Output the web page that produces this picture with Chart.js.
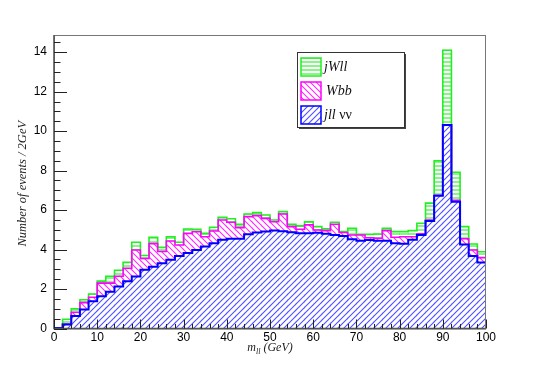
<!DOCTYPE html>
<html><head><meta charset="utf-8">
<script src="https://cdn.jsdelivr.net/npm/chart.js@4.4.1/dist/chart.umd.min.js"></script>
<style>html,body{margin:0;padding:0;background:#fff}#wrap{width:540px;height:366px;position:relative}</style>
</head><body><div id="wrap"><canvas id="c" width="540" height="366"></canvas></div>
<script>
// bin centres of the m_ll histogram (GeV), 2 GeV bins
const binCenters = [1,3,5,7,9,11,13,15,17,19,21,23,25,27,29,31,33,35,37,39,41,43,45,47,49,
  51,53,55,57,59,61,63,65,67,69,71,73,75,77,79,81,83,85,87,89,91,93,95,97,99];
// stacked contributions (events / 2 GeV), bottom to top
const jllvv = [0.02,0.2,0.63,0.96,1.38,1.63,1.86,2.13,2.39,2.63,2.98,3.13,3.3,3.48,3.67,3.82,3.98,4.15,4.32,4.5,
  4.55,4.55,4.77,4.86,4.91,4.96,4.93,4.88,4.82,4.83,4.85,4.8,4.74,4.69,4.52,4.45,4.49,4.45,4.45,4.32,
  4.3,4.5,4.74,5.45,6.72,10.31,6.42,4.25,3.67,3.35];
const Wbb = [0,0.02,0.19,0.35,0.2,0.67,0.44,0.52,0.66,1.35,0.57,1.17,0.6,0.95,0.56,1.0,0.92,0.5,0.62,1.0,
  0.83,0.56,0.9,0.86,0.67,0.45,0.87,0.28,0.21,0.42,0.14,0.16,0.54,0.17,0.22,0.29,0.11,0.12,0.51,0.3,
  0.35,0.15,0.06,0.05,0.03,0,0.08,0.3,0.31,0.24];
const jWll = [0.01,0.25,0.18,0.15,0.17,0.1,0.35,0.3,0.3,0.39,0.15,0.32,0.21,0.22,0.14,0.22,0.13,0.17,0.19,0.14,
  0.18,0.17,0.13,0.15,0.17,0.09,0.12,0.12,0.17,0.16,0.17,0.09,0.1,0.05,0.34,0.03,0.17,0.22,0.12,0.29,
  0.26,0.31,0.53,0.85,1.75,3.79,1.42,0.61,0.3,0.3];
const xTicks = [0,10,20,30,40,50,60,70,80,90,100];
const yTicks = [0,2,4,6,8,10,12,14];
const binWidth = 2;

function hatch(kind, color, size) {
  const c = document.createElement('canvas'); c.width = size; c.height = size;
  const g = c.getContext('2d');
  g.fillStyle = 'rgba(255,255,255,0)'; g.fillRect(0, 0, size, size);
  g.strokeStyle = color; g.lineWidth = 1.1;
  g.beginPath();
  if (kind === 'h') { g.moveTo(0, size/2); g.lineTo(size, size/2); }
  else if (kind === 'slash') {
    g.moveTo(0, size); g.lineTo(size, 0);
    g.moveTo(-1, 1); g.lineTo(1, -1);
    g.moveTo(size-1, size+1); g.lineTo(size+1, size-1);
  } else {
    g.moveTo(0, 0); g.lineTo(size, size);
    g.moveTo(-1, size-1); g.lineTo(1, size+1);
    g.moveTo(size-1, -1); g.lineTo(size+1, 1);
  }
  g.stroke();
  return g.createPattern(c, 'repeat');
}
const ctx = document.getElementById('c').getContext('2d');
const patBlue = hatch('slash', 'rgb(80,80,255)', 6);
const patMag = hatch('back', 'rgb(255,40,255)', 6);
const patGreen = hatch('h', 'rgb(40,235,40)', 4);

function cum(...arrs) { return arrs[0].map((_, i) => arrs.reduce((s, a) => s + a[i], 0)); }
function outline(tot) {
  const pts = [{x: binCenters[0] - binWidth/2, y: 0}];
  tot.forEach((v, i) => pts.push({x: binCenters[i] - binWidth/2, y: v}));
  pts.push({x: binCenters[binCenters.length-1] + binWidth/2, y: tot[tot.length-1]});
  pts.push({x: binCenters[binCenters.length-1] + binWidth/2, y: 0});
  return pts;
}
const tBlue = cum(jllvv), tMag = cum(jllvv, Wbb), tGreen = cum(jllvv, Wbb, jWll);
const xy = arr => arr.map((v, i) => ({x: binCenters[i], y: v}));

const decor = {
  id: 'decor',
  afterDatasetsDraw(chart) {
    const c = chart.ctx, a = chart.chartArea, xs = chart.scales.x, ys = chart.scales.y;
    c.save();
    // frame
    c.strokeStyle = '#777'; c.lineWidth = 1;
    c.strokeRect(a.left + 0.5, a.top + 0.5, a.right - a.left - 1, a.bottom - a.top);
    c.strokeStyle = '#555'; c.lineWidth = 1.6;
    c.beginPath(); c.moveTo(a.left, a.top); c.lineTo(a.left, a.bottom); c.lineTo(a.right, a.bottom); c.stroke();
    // ticks
    c.strokeStyle = '#222'; c.lineWidth = 1;
    c.beginPath();
    for (let v = 0; v <= 14.5; v += 0.5) {
      const y = Math.round(ys.getPixelForValue(v)) + 0.5;
      const len = (v % 2 === 0) ? 13 : 6.5;
      c.moveTo(a.left, y); c.lineTo(a.left + len, y);
    }
    for (let v = 0; v <= 100; v += 2) {
      const x = Math.round(xs.getPixelForValue(v)) + 0.5;
      const len = (v % 10 === 0) ? 9 : 4.5;
      c.moveTo(x, a.bottom); c.lineTo(x, a.bottom - len);
    }
    c.stroke();
    // y title
    c.fillStyle = '#222';
    c.font = 'italic 12.5px "Liberation Serif"';
    c.textAlign = 'center'; c.textBaseline = 'middle';
    c.save(); c.translate(23, (a.top + a.bottom) / 2 + 2); c.rotate(-Math.PI / 2);
    c.fillText('Number of events / 2GeV', 0, 0); c.restore();
    // x title m_ll (GeV)
    const parts = [['m', 'italic 12px "Liberation Serif"', 0], ['ll', 'italic 8px "Liberation Serif"', 3], [' (GeV)', 'italic 12px "Liberation Serif"', 0]];
    let w = 0; parts.forEach(p => { c.font = p[1]; w += c.measureText(p[0]).width; });
    let x = (a.left + a.right) / 2 - w / 2; const base = 351;
    c.textAlign = 'left'; c.textBaseline = 'alphabetic';
    parts.forEach(p => { c.font = p[1]; c.fillText(p[0], x, base + p[2]); x += c.measureText(p[0]).width; });
    // legend
    const L = {x: 297, y: 52, w: 107, h: 75};
    c.fillStyle = '#444'; c.fillRect(L.x + 2, L.y + 2, L.w, L.h);
    c.fillStyle = '#fff'; c.fillRect(L.x, L.y, L.w, L.h);
    c.strokeStyle = '#333'; c.lineWidth = 1; c.strokeRect(L.x + 0.5, L.y + 0.5, L.w, L.h);
    const entries = [
      {pat: patGreen, col: '#22ee22', y: 58},
      {pat: patMag, col: '#ff00ff', y: 82},
      {pat: patBlue, col: '#0000ff', y: 106}
    ];
    entries.forEach(e => {
      c.fillStyle = e.pat; c.fillRect(301, e.y, 20, 18);
      c.strokeStyle = e.col; c.lineWidth = 1.5; c.strokeRect(301, e.y, 20, 18);
    });
    c.fillStyle = '#111'; c.textBaseline = 'middle'; c.textAlign = 'left';
    c.font = 'italic 14px "Liberation Serif"';
    c.fillText('jWll', 324, 67);
    c.fillText('Wbb', 326, 91);
    c.fillText('jll', 324, 115);
    const jw = c.measureText('jll').width;
    c.font = '14px "Liberation Serif"';
    c.fillText(' νν', 324 + jw, 115);
    c.restore();
  }
};

new Chart(ctx, {
  data: {
    datasets: [
      {type: 'bar', label: 'jll νν', data: xy(jllvv), backgroundColor: patBlue, borderWidth: 0, stack: 'h', order: 2, barPercentage: 1, categoryPercentage: 1},
      {type: 'bar', label: 'Wbb', data: xy(Wbb), backgroundColor: patMag, borderWidth: 0, stack: 'h', order: 2, barPercentage: 1, categoryPercentage: 1},
      {type: 'bar', label: 'jWll', data: xy(jWll), backgroundColor: patGreen, borderWidth: 0, stack: 'h', order: 2, barPercentage: 1, categoryPercentage: 1},
      {type: 'line', data: outline(tBlue), borderColor: '#0000ff', borderWidth: 2, stepped: 'before', pointRadius: 0, fill: false, stack: 'L1', order: 1},
      {type: 'line', data: outline(tMag), borderColor: '#ff00ff', borderWidth: 1.6, stepped: 'before', pointRadius: 0, fill: false, stack: 'L2', order: 1},
      {type: 'line', data: outline(tGreen), borderColor: '#22ee22', borderWidth: 1.6, stepped: 'before', pointRadius: 0, fill: false, stack: 'L3', order: 1}
    ]
  },
  options: {
    responsive: false, animation: false,
    layout: {padding: {left: 0, right: 54, top: 35, bottom: 0}},
    plugins: {legend: {display: false}, tooltip: {enabled: false}},
    scales: {
      x: {type: 'linear', min: 0, max: 100, offset: false,
        grid: {display: false, drawTicks: false}, border: {display: false},
        afterFit: s => { s.height = 37.5; },
        afterBuildTicks: s => { s.ticks = xTicks.map(v => ({value: v})); },
        ticks: {padding: 2, color: '#000', font: {family: '"Liberation Sans"', size: 12}, maxRotation: 0, autoSkip: false}},
      y: {type: 'linear', min: 0, max: 14.87, stacked: true,
        grid: {display: false, drawTicks: false}, border: {display: false},
        afterFit: s => { s.width = 54; },
        afterBuildTicks: s => { s.ticks = yTicks.map(v => ({value: v})); },
        ticks: {padding: 7, color: '#000', font: {family: '"Liberation Sans"', size: 12}, autoSkip: false}}
    }
  },
  plugins: [decor]
});
</script></body></html>
